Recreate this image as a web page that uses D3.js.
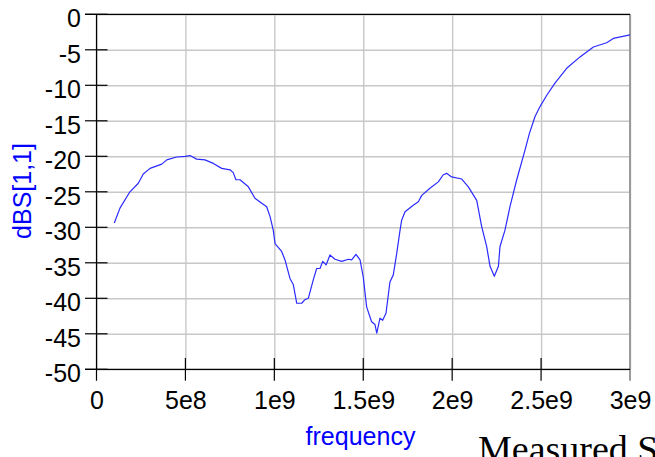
<!DOCTYPE html>
<html>
<head>
<meta charset="utf-8">
<script src="https://cdn.jsdelivr.net/npm/d3@7"></script>
<style>
  html, body { margin: 0; padding: 0; background: #fff; }
  svg { display: block; }
</style>
</head>
<body>
<svg id="chart" width="655" height="457"></svg>
<script>
// ---- data (frequency in Hz, S11 in dB) ----
const freqGHz = [0.10,0.132,0.188,0.235,0.263,0.301,0.367,0.395,0.451,0.498,0.526,0.563,0.610,0.657,0.704,0.751,0.769,0.784,0.807,0.854,0.891,0.929,0.957,0.976,0.994,1.004,1.041,1.060,1.088,1.107,1.126,1.154,1.172,1.191,1.219,1.238,1.257,1.272,1.291,1.313,1.341,1.379,1.416,1.435,1.459,1.482,1.500,1.519,1.547,1.566,1.576,1.594,1.609,1.628,1.650,1.669,1.688,1.707,1.716,1.735,1.781,1.810,1.829,1.875,1.922,1.950,1.969,1.997,2.054,2.091,2.138,2.166,2.194,2.213,2.237,2.260,2.269,2.297,2.325,2.363,2.410,2.434,2.466,2.494,2.532,2.578,2.644,2.719,2.794,2.869,2.906,3.000];
const dbS11 = [-29.4,-27.3,-25.0,-23.8,-22.5,-21.7,-21.1,-20.5,-20.1,-20.0,-19.9,-20.4,-20.5,-21.0,-21.7,-21.9,-22.3,-23.3,-23.3,-24.3,-25.9,-26.6,-27.1,-28.5,-30.4,-32.3,-33.4,-34.6,-37.2,-38.1,-40.7,-40.7,-40.2,-40.0,-37.4,-35.8,-35.8,-34.8,-35.3,-33.9,-34.5,-34.8,-34.5,-34.6,-33.8,-34.6,-37.0,-41.2,-43.3,-43.7,-44.9,-42.8,-43.1,-42.1,-37.7,-36.7,-33.7,-30.4,-29.0,-27.8,-26.9,-26.4,-25.5,-24.5,-23.6,-22.6,-22.4,-22.9,-23.2,-24.3,-26.2,-29.9,-32.7,-35.5,-36.9,-35.5,-32.7,-30.4,-27.1,-23.3,-19.1,-16.8,-14.4,-13.0,-11.4,-9.7,-7.6,-6.0,-4.6,-4.0,-3.4,-2.9];
const xTickValues = [0, 5e8, 1e9, 1.5e9, 2e9, 2.5e9, 3e9];
const xTickLabels = ["0", "5e8", "1e9", "1.5e9", "2e9", "2.5e9", "3e9"];
const yTickValues = [0, -5, -10, -15, -20, -25, -30, -35, -40, -45, -50];
const yTickLabels = ["0", "-5", "-10", "-15", "-20", "-25", "-30", "-35", "-40", "-45", "-50"];
const xTitle = "frequency";
const yTitle = "dBS[1,1]";
const caption = "Measured S11";

// ---- layout ----
const L = 96.5, R = 630, T = 14.3, B = 369.3;
const svg = d3.select("#chart");
const x = d3.scaleLinear().domain([0, 3e9]).range([L, R]);
const y = d3.scaleLinear().domain([-50, 0]).range([B, T]);
const font = "'Liberation Sans', Arial, Helvetica, sans-serif";

// grid
const gx = svg.append("g").attr("transform", `translate(0,${B})`)
  .call(d3.axisBottom(x).tickValues(xTickValues).tickSize(-(B - T)).tickFormat(""));
gx.select(".domain").remove();
gx.selectAll(".tick line").attr("stroke", "#c8c8c8").attr("stroke-width", 1.4);
const gy = svg.append("g").attr("transform", `translate(${L},0)`)
  .call(d3.axisLeft(y).tickValues(yTickValues).tickSize(-(R - L)).tickFormat(""));
gy.select(".domain").remove();
gy.selectAll(".tick line").attr("stroke", "#c8c8c8").attr("stroke-width", 1.4);

// frame
svg.append("line").attr("x1", R).attr("x2", R).attr("y1", T).attr("y2", B + 11.4)
  .attr("stroke", "#9a9a9a").attr("stroke-width", 2);
svg.append("line").attr("x1", L - 11.5).attr("x2", R).attr("y1", T).attr("y2", T)
  .attr("stroke", "#000").attr("stroke-width", 1.2);
svg.append("line").attr("x1", L - 11.5).attr("x2", R).attr("y1", B).attr("y2", B)
  .attr("stroke", "#000").attr("stroke-width", 1.2);
svg.append("line").attr("x1", L).attr("x2", L).attr("y1", T).attr("y2", B + 11.4)
  .attr("stroke", "#000").attr("stroke-width", 1.2);

// cross ticks
svg.append("g").selectAll("line").data(yTickValues).join("line")
  .attr("x1", L - 11.5).attr("x2", L + 11).attr("y1", d => y(d)).attr("y2", d => y(d))
  .attr("stroke", "#000").attr("stroke-width", 1.2);
svg.append("g").selectAll("line").data(xTickValues.slice(1, -1)).join("line")
  .attr("x1", d => x(d)).attr("x2", d => x(d)).attr("y1", B - 11.3).attr("y2", B + 11.4)
  .attr("stroke", "#000").attr("stroke-width", 1.2);

// tick labels
const ax = svg.append("g").attr("transform", `translate(0,${B})`)
  .call(d3.axisBottom(x).tickValues(xTickValues).tickSize(0).tickPadding(21.5)
    .tickFormat((d, i) => xTickLabels[i]));
ax.select(".domain").remove();
ax.selectAll("text").attr("font-family", font).attr("font-size", 25).attr("fill", "#000").attr("dy", "0.71em");
const ay = svg.append("g").attr("transform", `translate(${L},0)`)
  .call(d3.axisLeft(y).tickValues(yTickValues).tickSize(0).tickPadding(15.5)
    .tickFormat((d, i) => yTickLabels[i]));
ay.select(".domain").remove();
ay.selectAll("text").attr("font-family", font).attr("font-size", 25).attr("fill", "#000").attr("dy", "0.5em");

// curve
const line = d3.line().x((d, i) => x(freqGHz[i] * 1e9)).y(d => y(d));
svg.append("path").datum(dbS11).attr("d", line)
  .attr("fill", "none").attr("stroke", "#2b2bff").attr("stroke-width", 1.2).attr("stroke-linejoin", "round");

// titles
svg.append("text").attr("x", 360.5).attr("y", 445).attr("text-anchor", "middle")
  .attr("font-family", font).attr("font-size", 25).attr("fill", "#0000ff").text(xTitle);
svg.append("text").attr("transform", "translate(31,191) rotate(-90)").attr("text-anchor", "middle")
  .attr("font-family", font).attr("font-size", 25).attr("fill", "#0000ff").text(yTitle);
svg.append("text").attr("x", 478).attr("y", 462)
  .attr("font-family", "'Liberation Serif', 'Times New Roman', serif").attr("font-size", 38)
  .attr("fill", "#000").text(caption);
</script>
</body>
</html>
